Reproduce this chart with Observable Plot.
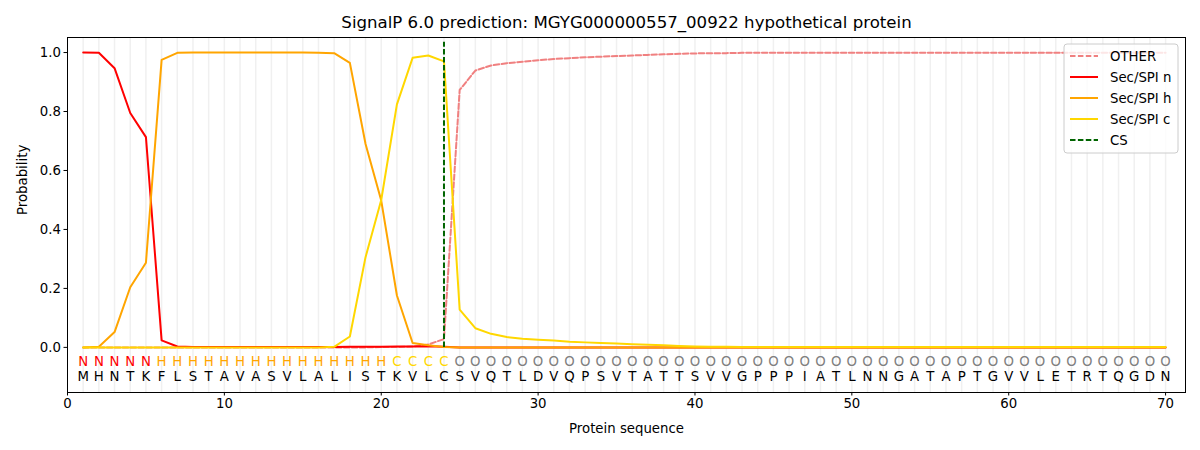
<!DOCTYPE html>
<html>
<head>
<meta charset="utf-8">
<script src="https://cdn.jsdelivr.net/npm/d3@7"></script>
<script src="https://cdn.jsdelivr.net/npm/@observablehq/plot@0.6"></script>
<style>
  html, body { margin: 0; padding: 0; background: #fff; }
  #chart svg { font-family: "DejaVu Sans", sans-serif; }
</style>
</head>
<body>
<div id="chart"></div>
<script>
const title = "SignalP 6.0 prediction: MGYG000000557_00922 hypothetical protein";
const sequence = "MHNTKFLSTAVASVLALISTKVLCSVQTLDVQPSVTATTSVVGPPPIATLNNGATAPTGVVLETRTQGDN".split("");
const regionLabels = "NNNNNHHHHHHHHHHHHHHHCCCCOOOOOOOOOOOOOOOOOOOOOOOOOOOOOOOOOOOOOOOOOOOOOO".split("");
const positions = sequence.map((d, i) => i + 1);
const cleavageSite = 24;

const otherProb = [
  0,0,0,0,0,0,0,0,0,0,
  0,0,0,0,0,0,0,0,0,0.001,
  0.001,0.003,0.01,0.028,0.873,0.939,0.956,0.964,0.969,0.974,
  0.978,0.981,0.984,0.986,0.988,0.99,0.992,0.994,0.996,0.997,
  0.998,0.998,0.999,0.999,0.999,0.999,0.999,0.999,0.999,0.999,
  0.999,0.999,0.999,0.999,0.999,0.999,0.999,0.999,0.999,0.999,
  0.999,0.999,0.999,0.999,0.999,0.999,0.999,0.999,0.999,0.999
];
const secN = [
  1.0,0.999,0.947,0.795,0.713,0.024,0.003,0.001,0.001,0.001,
  0.001,0.001,0.001,0.001,0.001,0.001,0.001,0.002,0.002,0.002,
  0.003,0.003,0.004,0.002,0,0,0,0,0,0,
  0,0,0,0,0,0,0,0,0,0,
  0,0,0,0,0,0,0,0,0,0,
  0,0,0,0,0,0,0,0,0,0,
  0,0,0,0,0,0,0,0,0,0
];
const secH = [
  0.0,0.002,0.052,0.204,0.287,0.975,0.999,1.0,1.0,1.0,
  1.0,1.0,1.0,1.0,1.0,0.999,0.998,0.965,0.69,0.498,
  0.176,0.015,0.007,0.001,0,0,0,0,0,0,
  0,0,0,0,0,0,0,0,0,0,
  0,0,0,0,0,0,0,0,0,0,
  0,0,0,0,0,0,0,0,0,0,
  0,0,0,0,0,0,0,0,0,0
];
const secC = [
  0,0,0,0,0,0,0,0,0,0,
  0,0,0,0,0,0,0.002,0.037,0.306,0.5,
  0.824,0.982,0.99,0.97,0.128,0.065,0.046,0.035,0.029,0.026,
  0.023,0.019,0.017,0.015,0.013,0.011,0.009,0.007,0.005,0.003,
  0.002,0.002,0.001,0.001,0.001,0.001,0.001,0.001,0.001,0.001,
  0.001,0.001,0.001,0.001,0.001,0.001,0.001,0.001,0.001,0.001,
  0.001,0.001,0.001,0.001,0.001,0.001,0.001,0.001,0.001,0.001
];
const xTicks = [0, 10, 20, 30, 40, 50, 60, 70];
const yTicks = [0, 0.2, 0.4, 0.6, 0.8, 1.0];

const series = [
  {name: "OTHER", values: otherProb, color: "#F08080", dash: "5.5,2.4"},
  {name: "Sec/SPI n", values: secN, color: "#FF0000", dash: null},
  {name: "Sec/SPI h", values: secH, color: "#FFA500", dash: null},
  {name: "Sec/SPI c", values: secC, color: "#FFD700", dash: null}
];
const labelColor = {N: "#FF0000", H: "#FFA500", C: "#FFD700", O: "#808080"};

const lineMarks = series.map(s => Plot.line(positions, {
  x: d => d, y: (d, i) => s.values[i],
  stroke: s.color, strokeWidth: 2, strokeDasharray: s.dash
}));

const chart = Plot.plot({
  width: 1200, height: 450,
  marginLeft: 67, marginRight: 15, marginTop: 37, marginBottom: 58,
  x: {domain: [0, 71.27]},
  y: {domain: [-0.153, 1.051]},
  style: {fontFamily: "DejaVu Sans, sans-serif", fontSize: "13.3px", color: "#000"},
  marks: [
    Plot.ruleX(positions, {stroke: "#f0f0f0", strokeWidth: 1.5}),
    ...lineMarks,
    Plot.ruleX([cleavageSite], {y1: 0, y2: 1.035, stroke: "#006400", strokeWidth: 2, strokeDasharray: "5.5,2.4"}),
    Plot.text(regionLabels, {x: (d, i) => i + 1, y: -0.047, text: d => d, fill: d => labelColor[d], fontSize: 13.3}),
    Plot.text(sequence, {x: (d, i) => i + 1, y: -0.1, text: d => d, fill: "#000", fontSize: 13.3}),
    Plot.frame({stroke: "#000", strokeWidth: 1}),
    Plot.axisX(xTicks, {tickSize: 3.5, tickPadding: 3, label: null, fontSize: 13.3}),
    Plot.axisY(yTicks, {tickSize: 3.5, tickPadding: 3, tickFormat: d => d.toFixed(1), label: null, fontSize: 13.3}),
    Plot.text([title], {frameAnchor: "top", lineAnchor: "middle", dy: -15, fontSize: 16.6, fill: "#000"}),
    Plot.text(["Protein sequence"], {frameAnchor: "bottom", lineAnchor: "middle", dy: 36, fontSize: 13.3, fill: "#000"}),
    Plot.text(["Probability"], {frameAnchor: "left", lineAnchor: "middle", dx: -45, rotate: -90, fontSize: 13.3, fill: "#000"})
  ]
});

document.getElementById("chart").appendChild(chart);

// Legend
const svg = d3.select(chart);
const legendItems = [
  ...series.map(s => ({name: s.name, color: s.color, dash: s.dash})),
  {name: "CS", color: "#006400", dash: "5.5,2.4"}
];
const lg = svg.append("g").attr("transform", "translate(1064,44)");
lg.append("rect").attr("width", 114).attr("height", 109).attr("rx", 3)
  .attr("fill", "#fff").attr("fill-opacity", 0.8).attr("stroke", "#ccc");
legendItems.forEach((it, i) => {
  const yy = 12 + i * 21;
  lg.append("line").attr("x1", 6).attr("x2", 34).attr("y1", yy).attr("y2", yy)
    .attr("stroke", it.color).attr("stroke-width", 2)
    .attr("stroke-dasharray", it.dash);
  lg.append("text").attr("x", 46).attr("y", yy).attr("dy", "0.35em")
    .attr("text-anchor", "start")
    .attr("font-size", 13.3).attr("fill", "#000").text(it.name);
});
</script>
</body>
</html>
